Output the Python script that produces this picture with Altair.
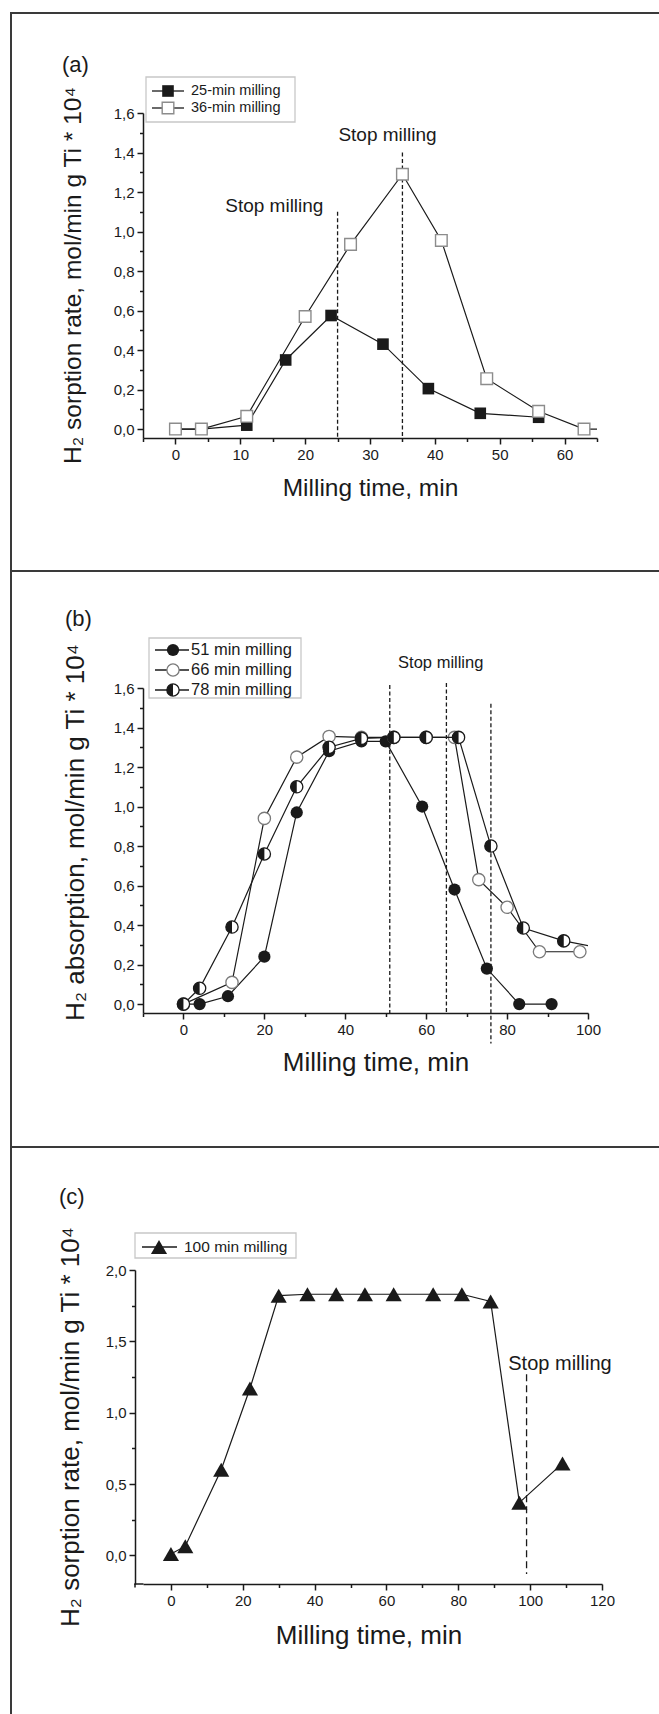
import altair as alt
import pandas as pd

# ---------------- data ----------------
# panel (a)
a25_x = [0, 4, 11, 17, 24, 32, 39, 47, 56]
a25_y = [0.0, 0.0, 0.02, 0.35, 0.575, 0.43, 0.205, 0.08, 0.06]
a36_x = [0, 4, 11, 20, 27, 35, 41, 48, 56, 63, 70]
a36_y = [0.0, 0.0, 0.065, 0.57, 0.935, 1.29, 0.955, 0.255, 0.09, 0.0, 0.0]
a_stop_x = [25, 35]
a_stop_top = [1.10, 1.40]
a_stop_bot = [-0.045, -0.045]
a_note_x = [15.25, 32.7]
a_note_y = [1.10, 1.46]
a_legend = ["25-min milling", "36-min milling"]
a_xticks = [-5, 0, 5, 10, 15, 20, 25, 30, 35, 40, 45, 50, 55, 60, 65]
a_yticks = [0.0, 0.1, 0.2, 0.3, 0.4, 0.5, 0.6, 0.7, 0.8, 0.9, 1.0, 1.1, 1.2, 1.3, 1.4, 1.5, 1.6]

# panel (b)
b51_x = [0, 4, 11, 20, 28, 36, 44, 50, 59, 67, 75, 83, 91]
b51_y = [0.0, 0.0, 0.04, 0.24, 0.97, 1.28, 1.33, 1.33, 1.0, 0.58, 0.18, 0.0, 0.0]
b66_x = [0, 12, 20, 28, 36, 44, 52, 60, 67, 73, 80, 88, 98]
b66_y = [0.0, 0.11, 0.94, 1.25, 1.355, 1.35, 1.35, 1.35, 1.35, 0.63, 0.49, 0.265, 0.265]
b78_x = [0, 4, 12, 20, 28, 36, 44, 52, 60, 68, 76, 84, 94, 104]
b78_y = [0.0, 0.08, 0.39, 0.76, 1.10, 1.30, 1.345, 1.35, 1.35, 1.35, 0.80, 0.385, 0.32, 0.28]
b_stop_x = [51, 65, 76]
b_stop_top = [1.615, 1.625, 1.52]
b_stop_bot = [-0.045, -0.045, -0.2]
b_note_x = [63.6]
b_note_y = [1.70]
b_legend = ["51 min milling", "66 min milling", "78 min milling"]
b_xticks = [-10, 0, 10, 20, 30, 40, 50, 60, 70, 80, 90, 100]
b_yticks = a_yticks

# panel (c)
c100_x = [0, 4, 14, 22, 30, 38, 46, 54, 62, 73, 81, 89, 97, 109]
c100_y = [0.01, 0.065, 0.60, 1.17, 1.82, 1.83, 1.83, 1.83, 1.83, 1.83, 1.83, 1.78, 0.37, 0.645]
c_stop_x = [99]
c_stop_top = [1.27]
c_stop_bot = [-0.13]
c_note_x = [108.3]
c_note_y = [1.30]
c_legend = ["100 min milling"]
c_xticks = [0, 10, 20, 30, 40, 50, 60, 70, 80, 90, 100, 110, 120]
c_yticks = [0.0, 0.25, 0.5, 0.75, 1.0, 1.25, 1.5, 1.75, 2.0]

note_text = "Stop milling"
panel_tags = ["(a)", "(b)", "(c)"]
y_titles = ["H\u2082 sorption rate, mol/min g Ti * 10\u2074",
            "H\u2082 absorption, mol/min g Ti * 10\u2074",
            "H\u2082 sorption rate, mol/min g Ti * 10\u2074"]
x_title = "Milling time, min"

# ---------------- styling ----------------
FONT = "Liberation Sans, Arial, Helvetica, sans-serif"
INK = "#1a1a1a"
FRAME = "#3a3a3a"
HALF_LEFT = "M0,-1A1,1,0,0,0,0,1Z"
ONE = pd.DataFrame({"k": [0]})

AX = dict(labelFont=FONT, labelFontSize=15, labelColor=INK, labelPadding=3,
          labelOverlap=False, labelFlush=False, domainColor=INK, domainWidth=1.5,
          tickColor=INK, tickWidth=1.5, titleFont=FONT, titleFontWeight="normal",
          titleColor=INK, grid=False)


def axis_x(ticks, major, tsize, tx, ty):
    test = f"datum.value % {major} == 0"
    return alt.Axis(values=ticks, format="d", labelExpr=f"{test} ? datum.label : ''",
                    tickSize={"condition": {"test": test, "value": 6}, "value": 3.5},
                    title=x_title, titleFontSize=tsize, titleX=tx, titleY=ty, titleAngle=0,
                    titleAlign="center", titleBaseline="alphabetic", **AX)


def axis_y(ticks, test, title, tsize, tx, ty, offset=0):
    return alt.Axis(values=ticks, offset=offset,
                    labelExpr=f"{test} ? replace(format(datum.value, '.1f'), '.', ',') : ''",
                    tickSize={"condition": {"test": test, "value": 6}, "value": 3.5},
                    title=title, titleFontSize=tsize, titleX=tx, titleY=ty, titleAngle=270,
                    titleAlign="center", titleBaseline="alphabetic", **AX)


def bar(x0, x1, y0, y1, color=FRAME):
    """filled thin rectangle used for frame lines"""
    return alt.Chart(ONE).mark_rect(color=color, opacity=1).encode(
        x=alt.value(x0), x2=alt.value(x1), y=alt.value(y0), y2=alt.value(y1))


def rule(x, y, x2=None, y2=None, color=INK, width=1.3):
    enc = dict(x=alt.value(x), y=alt.value(y))
    if x2 is not None:
        enc["x2"] = alt.value(x2)
    if y2 is not None:
        enc["y2"] = alt.value(y2)
    return alt.Chart(ONE).mark_rule(color=color, strokeWidth=width).encode(**enc)


def bounds_rect(left, right, top, bottom):
    return alt.Chart(ONE).mark_rect(opacity=0, fillOpacity=0, strokeOpacity=0, strokeWidth=0).encode(
        x=alt.value(left), x2=alt.value(right), y=alt.value(top), y2=alt.value(bottom))


def tag(text, x, y):
    return alt.Chart(ONE).mark_text(font=FONT, fontSize=22, align="left", baseline="alphabetic",
                                    color=INK).encode(x=alt.value(x), y=alt.value(y), text=alt.value(text))


def legend_box(x0, x1, y0, y1):
    return alt.Chart(ONE).mark_rect(fill="white", stroke="#c8c8c8", strokeWidth=1.3).encode(
        x=alt.value(x0), x2=alt.value(x1), y=alt.value(y0), y2=alt.value(y1))


def legend_row(label, y, lx0, lx1, mx, tx, fsize, marker_marks):
    out = [rule(lx0, y, x2=lx1)]
    for mk in marker_marks:
        out.append(alt.Chart(ONE).mark_point(**mk).encode(x=alt.value(mx), y=alt.value(y)))
    out.append(alt.Chart(ONE).mark_text(font=FONT, fontSize=fsize, align="left", baseline="middle",
                                        color=INK).encode(x=alt.value(tx), y=alt.value(y),
                                                          text=alt.value(label)))
    return out


SQ_FILLED = dict(shape="square", size=135, filled=True, color=INK, opacity=1)
SQ_OPEN = dict(shape="square", size=135, filled=True, fill="white", stroke="#8c8c8c",
               strokeWidth=1.4, opacity=1)
CI_FILLED = dict(shape="circle", size=150, filled=True, color=INK, opacity=1)
CI_OPEN = dict(shape="circle", size=150, filled=True, fill="white", stroke="#7a7a7a",
               strokeWidth=1.3, opacity=1)
CI_HALF_BASE = dict(shape="circle", size=150, filled=True, fill="white", stroke=INK,
                    strokeWidth=1.3, opacity=1)
CI_HALF_TOP = dict(shape=HALF_LEFT, size=150, filled=True, color=INK, opacity=1)
TRI = dict(shape="triangle-up", size=260, filled=True, color=INK, opacity=1)


def series(xs, ys, X, Y, markers, clip=True):
    d = pd.DataFrame({"x": xs, "y": ys})
    out = [alt.Chart(d).mark_line(color=INK, strokeWidth=1.2, clip=clip).encode(x=X, y=Y)]
    for mk in markers:
        out.append(alt.Chart(d).mark_point(clip=clip, **mk).encode(x=X, y=Y))
    return out


def stops(xs, tops, bots, X, Y, dash):
    d = pd.DataFrame({"x": xs, "y": tops, "y2": bots})
    return alt.Chart(d).mark_rule(color=INK, strokeWidth=1.3, strokeDash=dash, clip=False).encode(
        x=X, y=Y, y2="y2:Q")


def notes(xs, ys, X, Y, fsize):
    d = pd.DataFrame({"x": xs, "y": ys, "t": [note_text] * len(xs)})
    return alt.Chart(d).mark_text(font=FONT, fontSize=fsize, align="center", baseline="alphabetic",
                                  color=INK).encode(x=X, y=Y, text="t:N")


RIGHT = 516  # right edge of every panel (relative to the shared plot origin x = 143)

# ---------------- panel (a) ----------------
Wa, Ha = 454, 325
Xa = alt.X("x:Q", scale=alt.Scale(domain=[-5, 65], nice=False, zero=False),
           axis=axis_x(a_xticks, 10, 24.5, Wa / 2, 57))
Ya = alt.Y("y:Q", scale=alt.Scale(domain=[-0.045, 1.6], nice=False, zero=False),
           axis=axis_y(a_yticks, "round(datum.value*10) % 2 == 0", y_titles[0], 24.5, -63, 162))
pa_layers = [bounds_rect(-143, RIGHT, -113, 459),
             bar(-133, -131, -101, 459), bar(-133, RIGHT, -101, -99), bar(-133, RIGHT, 457, 459)]
pa_layers += [stops(a_stop_x, a_stop_top, a_stop_bot, Xa, Ya, [4, 2.5])]
pa_layers += series(a25_x, a25_y, Xa, Ya, [SQ_FILLED])
pa_layers += series(a36_x, a36_y, Xa, Ya, [SQ_OPEN])
pa_layers += [notes(a_note_x, a_note_y, Xa, Ya, 19), tag(panel_tags[0], -81, -41),
              legend_box(3, 152, -36, 9)]
pa_layers += legend_row(a_legend[0], -22, 9, 41, 25, 48, 14.5, [SQ_FILLED])
pa_layers += legend_row(a_legend[1], -5, 9, 41, 25, 48, 14.5, [SQ_OPEN])
pa = alt.layer(*pa_layers).properties(width=Wa, height=Ha)

# ---------------- panel (b) ----------------
Wb, Hb = 445, 325
Xb = alt.X("x:Q", scale=alt.Scale(domain=[-10, 100], nice=False, zero=False),
           axis=axis_x(b_xticks, 20, 26, Wb / 2 + 10, 57))
Yb = alt.Y("y:Q", scale=alt.Scale(domain=[-0.045, 1.6], nice=False, zero=False),
           axis=axis_y(b_yticks, "round(datum.value*10) % 2 == 0", y_titles[1], 26, -60, 144))
pb_layers = [bounds_rect(-143, RIGHT, -116, 460),
             bar(-133, -131, -116, 460), bar(-133, RIGHT, 458, 460)]
pb_layers += [stops(b_stop_x, b_stop_top, b_stop_bot, Xb, Yb, [4, 2.5])]
pb_layers += series(b51_x, b51_y, Xb, Yb, [CI_FILLED])
pb_layers += series(b66_x, b66_y, Xb, Yb, [CI_OPEN])
pb_layers += series(b78_x, b78_y, Xb, Yb, [CI_HALF_BASE, CI_HALF_TOP])
pb_layers += [notes(b_note_x, b_note_y, Xb, Yb, 16.5), tag(panel_tags[1], -78, -62),
              legend_box(6, 158, -50, 10)]
pb_layers += legend_row(b_legend[0], -38, 12, 46, 30, 48, 16.5, [CI_FILLED])
pb_layers += legend_row(b_legend[1], -18, 12, 46, 30, 48, 16.5, [CI_OPEN])
pb_layers += legend_row(b_legend[2], 2, 12, 46, 30, 48, 16.5, [CI_HALF_BASE, CI_HALF_TOP])
pb = alt.layer(*pb_layers).properties(width=Wb, height=Hb)

# ---------------- panel (c) ----------------
# plot origin shared with (a)/(b); the y axis sits 8 px further left (axis offset)
Wc, Hc = 459, 314
Xc = alt.X("x:Q", scale=alt.Scale(domain=[-7.773, 120], nice=False, zero=False),
           axis=axis_x(c_xticks, 20, 26, Wc / 2 - 4, 59))
Yc = alt.Y("y:Q", scale=alt.Scale(domain=[-0.2, 2.0], nice=False, zero=False),
           axis=axis_y(c_yticks, "round(datum.value*4) % 2 == 0", y_titles[2], 26, -57, 156.5,
                       offset=8))
pc_layers = [bounds_rect(-143, RIGHT, -122, 444),
             bar(-133, -131, -122, 444),
             rule(-8.75, Hc, x2=0.5, width=1.5),
             rule(-8, Hc, y2=Hc + 3.5, width=1.5)]
pc_layers += [stops(c_stop_x, c_stop_top, c_stop_bot, Xc, Yc, [7, 4])]
pc_layers += series(c100_x, c100_y, Xc, Yc, [TRI])
pc_layers += [notes(c_note_x, c_note_y, Xc, Yc, 20), tag(panel_tags[2], -84, -66),
              legend_box(-8, 153, -37, -12)]
pc_layers += legend_row(c_legend[0], -23, -1, 34, 16, 41, 15.5, [TRI])
pc = alt.layer(*pc_layers).properties(width=Wc, height=Hc)

chart = alt.vconcat(pa, pb, pc, spacing=0).properties(padding=0).configure_view(stroke=None)
chart.save("out.html", embed_options={"renderer": "svg", "actions": False})
